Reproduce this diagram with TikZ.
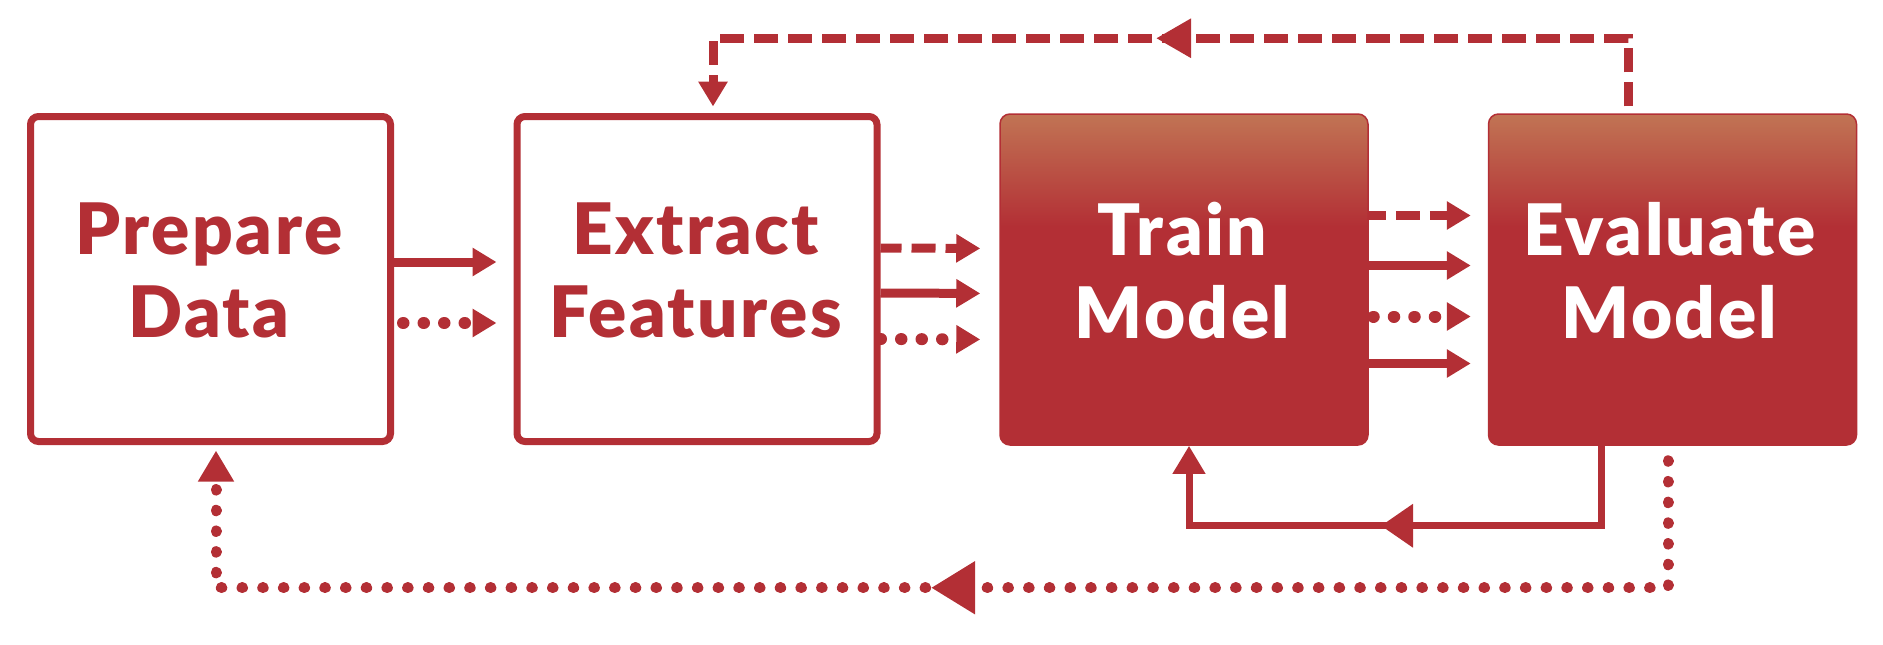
\documentclass[tikz,border=0pt]{standalone}
\usepackage{fontspec}
\setmainfont{Lato}[BoldFont={* Black}, LetterSpace=3.5]
\usetikzlibrary{arrows.meta,decorations.markings}
\definecolor{myred}{RGB}{179,47,53}
\definecolor{mytop}{RGB}{193,116,84}
\pgfdeclareverticalshading{boxgrad}{100bp}{color(0bp)=(myred); color(58bp)=(myred); color(75bp)=(mytop); color(100bp)=(mytop)}
\begin{document}
\begin{tikzpicture}[x=1pt,y=-1pt,
  openbox/.style={draw=myred, line width=7pt, fill=white, rounded corners=8pt, minimum width=360pt, minimum height=325pt, inner sep=0pt},
  fillbox/.style={draw=myred, line width=1.5pt, shade, shading=boxgrad, rounded corners=10pt, minimum width=368pt, minimum height=331pt, inner sep=0pt},
  lbl/.style={font=\bfseries\fontsize{71pt}{83pt}\selectfont, align=center, inner sep=0pt},
  sarrow/.style={draw=myred, line width=9pt, -{Triangle[length=24pt,width=27pt]}},
  darrow/.style={sarrow, dash pattern=on 24pt off 10pt},
  parrow/.style={draw=myred, line width=12pt, line cap=round, dash pattern=on 0.5pt off 20pt, -{Triangle[length=24pt,width=27pt]}},
  midtip/.style n args={3}{postaction={decorate, decoration={markings, mark=at position #1 with {\arrow{Triangle[length=#2,width=#3]}}}}},
  topdash/.style={draw=myred, line width=9pt, dash pattern=on 24pt off 10pt, dash phase=27pt, shorten >=6.5pt, -{Triangle[length=25pt,width=28pt]}},
  fbsolid/.style={draw=myred, line width=7pt, -{Triangle[length=28pt,width=31pt]}},
  botdot/.style={draw=myred, line width=11pt, line cap=round, dash pattern=on 0.5pt off 20.2pt, dash phase=5.7pt, shorten >=5.5pt, -{Triangle[length=31pt,width=34pt]}}
]
\useasboundingbox (0,0) rectangle (1883,645);

\node[openbox] (b1) at (210.5,279) {};
\node[openbox] (b2) at (697,279) {};
\node[fillbox] (b3) at (1184,279.5) {};
\node[fillbox] (b4) at (1672.5,279.5) {};

\node[lbl, text=myred] (t1) at ([xshift=-1.5pt,yshift=9pt]b1.center) {Prepare\\Data};
\node[lbl, text=myred] (t2) at ([xshift=-1.5pt,yshift=9pt]b2.center) {Extract\\Features};
\node[lbl, text=white] (t3) at ([xshift=-1.5pt,yshift=9pt]b3.center) {Train\\Model};
\node[lbl, text=white] (t4) at ([xshift=-3pt,yshift=9pt]b4.center) {Evaluate\\Model};

% Prepare -> Extract
\draw[sarrow, shorten >=17pt] ([yshift=17pt]b1.east) -- ([yshift=17pt]b2.west);
\draw[parrow, dash phase=11.5pt, shorten >=17pt] ([yshift=-44pt]b1.east) -- ([yshift=-44pt]b2.west);

% Extract -> Train
\draw[darrow, dash phase=3pt, shorten >=19pt] ([yshift=31pt]b2.east) -- ([yshift=31pt]b3.west);
\draw[sarrow, shorten >=19pt] ([yshift=-14pt]b2.east) -- ([yshift=-14pt]b3.west);
\draw[parrow, shorten >=19pt] ([yshift=-60pt]b2.east) -- ([yshift=-60pt]b3.west);

% Train -> Evaluate
\draw[darrow, dash phase=7pt, shorten >=17pt] ([yshift=64pt]b3.east) -- ([yshift=64pt]b4.west);
\draw[sarrow, shorten >=17pt] ([yshift=14pt]b3.east) -- ([yshift=14pt]b4.west);
\draw[parrow, dash phase=16pt, shorten >=17pt] ([yshift=-37pt]b3.east) -- ([yshift=-37pt]b4.west);
\draw[sarrow, shorten >=17pt] ([yshift=-84pt]b3.east) -- ([yshift=-84pt]b4.west);

% feedback loops
\draw[topdash, midtip={547pt}{35pt}{37pt}] ([xshift=-44.5pt]b4.north) -- ++(0,-75) -| ([xshift=16pt]b2.north);
\draw[fbsolid, midtip={300pt}{32pt}{42pt}] ([xshift=-71.5pt]b4.south) -- ++(0,80) -| ([xshift=5pt]b3.south);
\draw[botdot, midtip={879pt}{44pt}{50pt}] ([xshift=-4.5pt]b4.south) -- ++(0,142) -| ([xshift=5.5pt]b1.south);
\end{tikzpicture}
\end{document}
